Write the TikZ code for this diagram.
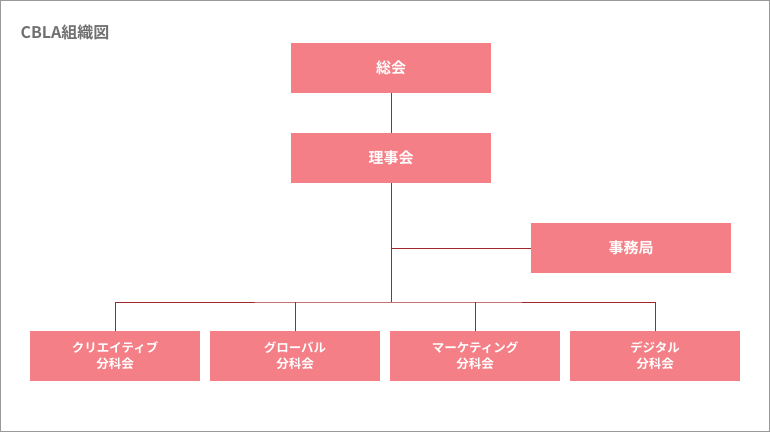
\documentclass[tikz,border=0pt]{standalone}
\usepackage{fontspec}
\setmainfont{Noto Sans CJK JP}[BoldFont={* Bold}]
\definecolor{boxc}{HTML}{F47F86}
\definecolor{linec}{HTML}{A0282D}
\definecolor{titc}{HTML}{707070}
\begin{document}
\begin{tikzpicture}[x=1pt,y=-1pt,
 org/.style={fill=boxc,draw=none,text=white,font=\bfseries\fontsize{15}{18}\selectfont,minimum height=50pt,inner sep=0pt,align=center},
 big/.style={org,minimum width=200pt},
 small/.style={org,minimum width=170pt,font=\bfseries\fontsize{12.5}{16}\selectfont},
 conn/.style={draw=linec,line width=0.8pt}]
\draw[draw=gray!80,line width=0.8pt,fill=white] (0.5,0.5) rectangle (769.5,431.5);
\useasboundingbox (0,0) rectangle (770,432);
\node[anchor=west,text=titc,font=\bfseries\fontsize{16}{18}\selectfont] (t) at (17,32) {CBLA組織図};
\node[big] (a) at (391,68) {総会};
\node[big] (b) at (391,158) {理事会};
\node[big] (c) at (631,248) {事務局};
\node[small] (d1) at (115,356) {クリエイティブ\\分科会};
\node[small] (d2) at (295,356) {グローバル\\分科会};
\node[small] (d3) at (475,356) {マーケティング\\分科会};
\node[small] (d4) at (655,356) {デジタル\\分科会};
\coordinate (j1) at (391,248);
\coordinate (j2) at (391,302);
\draw[conn] (a.south) -- (b.north);
\draw[conn] (b.south) -- (j2);
\draw[conn] (j1) -- (c.west);
\draw[conn] (d1.north) |- (j2) -| (d4.north);
\draw[conn] (d2.north) -- (d2.north |- j2);
\draw[conn] (d3.north) -- (d3.north |- j2);
\end{tikzpicture}
\end{document}
